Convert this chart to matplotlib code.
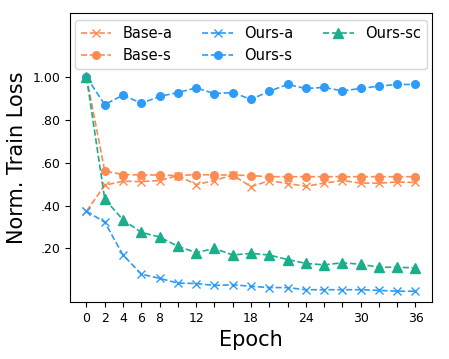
import matplotlib
matplotlib.use("Agg")
import matplotlib.pyplot as plt

epochs = list(range(0, 37, 2))
base_a = [0.374, 0.495, 0.514, 0.512, 0.517, 0.54, 0.498, 0.517, 0.543, 0.488,
          0.517, 0.503, 0.49, 0.505, 0.517, 0.505, 0.505, 0.51, 0.508]
base_s = [1.0, 0.561, 0.545, 0.543, 0.543, 0.54, 0.545, 0.543, 0.543, 0.54,
          0.535, 0.535, 0.535, 0.535, 0.535, 0.535, 0.535, 0.535, 0.535]
ours_a = [0.374, 0.322, 0.169, 0.08, 0.06, 0.038, 0.036, 0.027, 0.03, 0.023,
          0.017, 0.017, 0.007, 0.007, 0.007, 0.007, 0.004, 0.0, 0.0]
ours_s = [1.0, 0.872, 0.916, 0.878, 0.91, 0.928, 0.95, 0.923, 0.928, 0.896,
          0.934, 0.966, 0.947, 0.952, 0.936, 0.947, 0.958, 0.966, 0.966]
ours_sc = [1.0, 0.43, 0.333, 0.275, 0.253, 0.21, 0.18, 0.20, 0.169, 0.177,
           0.169, 0.148, 0.13, 0.123, 0.133, 0.126, 0.112, 0.112, 0.109]

xtick_labels = [0, 2, 4, 6, 8, 12, 18, 24, 30, 36]
ytick_vals = [0.2, 0.4, 0.6, 0.8, 1.0]
ytick_labels = [".20", ".40", ".60", ".80", "1.00"]

orange = "#fd8b52"
blue = "#2c9cf8"
green = "#1aaf8a"

fig = plt.figure(figsize=(4.49, 3.59), dpi=100)
ax = fig.add_axes([0.156, 0.159, 0.806, 0.805])

ax.plot(epochs, base_a, "--x", color=orange, label="Base-a", ms=6, lw=1.2)
ax.plot(epochs, base_s, "--o", color=orange, label="Base-s", ms=5.5, lw=1.2)
ax.plot(epochs, ours_a, "--x", color=blue, label="Ours-a", ms=6, lw=1.2)
ax.plot(epochs, ours_s, "--o", color=blue, label="Ours-s", ms=5.5, lw=1.2)
ax.plot(epochs, ours_sc, "--^", color=green, label="Ours-sc", ms=6.5, lw=1.2)

ax.set_xlim(-1.8, 37.8)
ax.set_ylim(-0.05, 1.3)
ax.set_xticks(epochs)
ax.set_xticklabels([str(e) if e in xtick_labels else "" for e in epochs], fontsize=9)
ax.set_yticks(ytick_vals)
ax.set_yticklabels(ytick_labels, fontsize=9)
ax.set_xlabel("Epoch", fontsize=15)
ax.set_ylabel("Norm. Train Loss", fontsize=15)

ax.legend(ncol=3, loc="upper center", fontsize=10.5, handlelength=2.1,
          columnspacing=2.0, borderaxespad=0.5, labelspacing=0.5)

fig.savefig("out.png", dpi=100)
